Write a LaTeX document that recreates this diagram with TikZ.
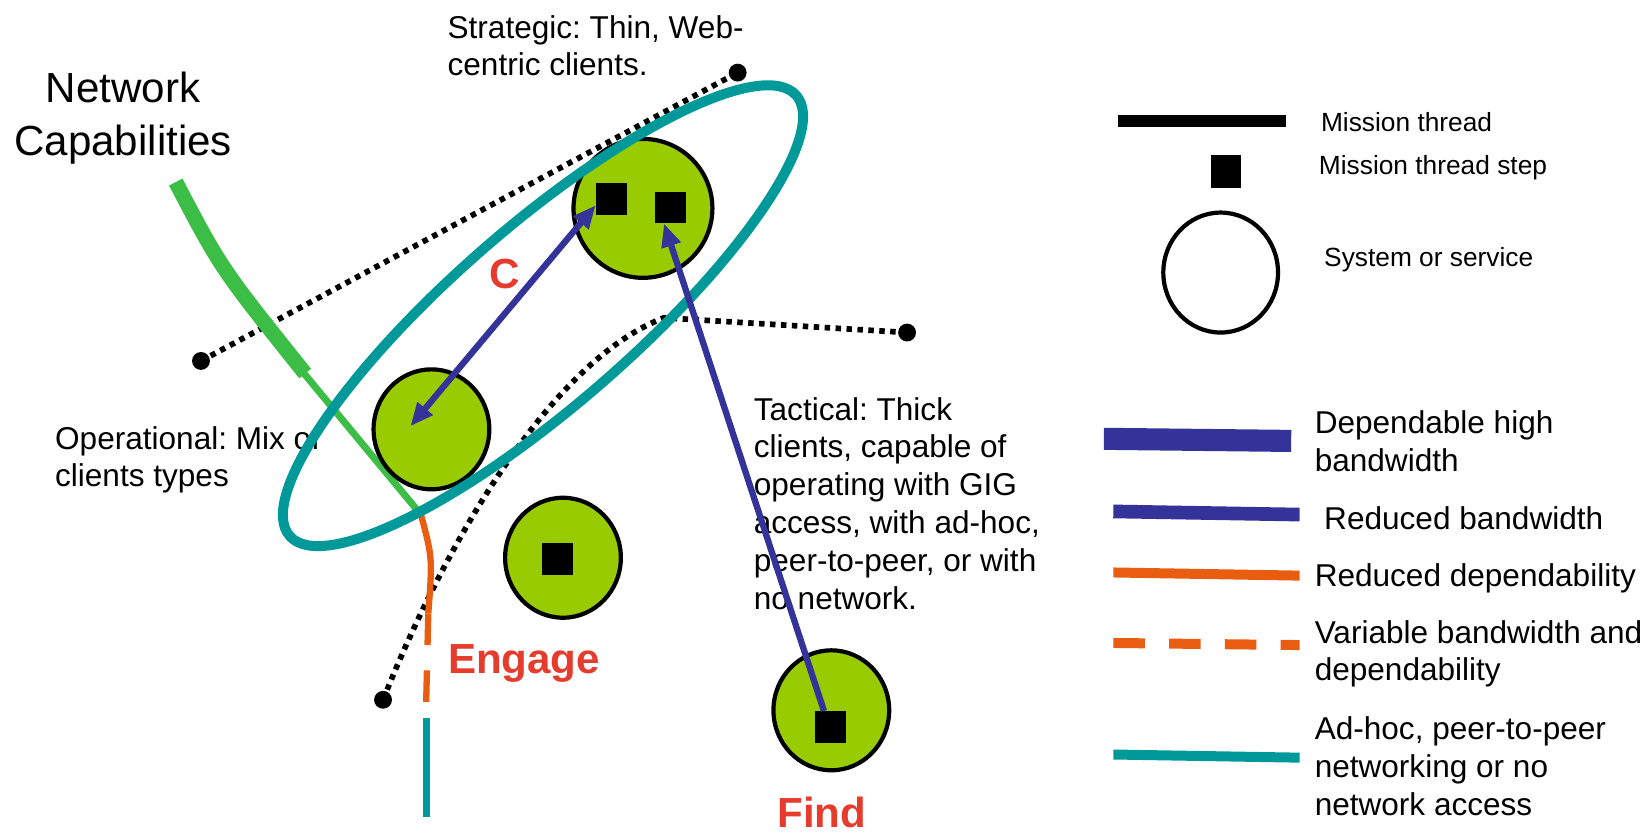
\documentclass[tikz,border=0pt]{standalone}
\usepackage{fontspec}
\setmainfont{Liberation Sans}
\usetikzlibrary{arrows.meta,shapes.geometric}
\definecolor{gfill}{HTML}{99CC00}
\definecolor{dblue}{HTML}{333399}
\definecolor{tealc}{HTML}{009999}
\definecolor{gline}{HTML}{3CBE46}
\definecolor{orng}{HTML}{E85D0F}
\definecolor{redt}{HTML}{E63C2E}
\frenchspacing
\begin{document}
\begin{tikzpicture}[x=0.5pt,y=-0.5pt,
  >={Triangle[length=11pt,width=9pt]},
  sys/.style={ellipse,draw=black,line width=2pt,fill=gfill,inner sep=0pt},
  stp/.style={rectangle,fill=black,minimum width=14.5pt,minimum height=15pt,inner sep=0pt},
  dotline/.style={line width=2.7pt,dash pattern=on 2.6pt off 2.6pt},
  enddot/.style={circle,fill=black,minimum size=8.5pt,inner sep=0pt},
  flow/.style={draw=dblue,line width=3pt},
  redlab/.style={text=redt,font=\fontsize{20}{24}\selectfont\bfseries,inner sep=0pt,anchor=base},
  txt/.style={font=\fontsize{15}{18}\selectfont,align=left,anchor=north west,inner sep=0pt},
  legsmall/.style={font=\fontsize{12.5}{15}\selectfont,anchor=base west,inner sep=0pt},
  legtxt/.style={font=\fontsize{15}{18}\selectfont,align=left,inner sep=0pt},
]
\useasboundingbox (0,0) rectangle (1568,794);

% texts under the lines
\node[txt] (strat) at (425,14) {Strategic: Thin, Web-\\centric clients.};
\node[txt,font=\fontsize{15}{17.5}\selectfont] (oper) at (52,405) {Operational: Mix of\\clients types};
\node[txt] (tact) at (716,377) {Tactical: Thick\\clients, capable of\\operating with GIG\\access, with ad-hoc,\\peer-to-peer, or with\\no network.};
\node[font=\fontsize{20}{25}\selectfont,align=center,anchor=north,inner sep=0pt] (netcap) at (117,68) {Network\\Capabilities};

% dotted mission threads
\node[enddot] (d1a) at (191,343) {};
\node[enddot] (d1b) at (701,69) {};
\draw[dotline] (d1a.center) -- (d1b.center);
\node[enddot] (d2a) at (364,665) {};
\node[enddot] (d2b) at (862,316) {};
\coordinate (d2m) at (631,302);
\draw[dotline] (d2a.center) .. controls (430,500) and (530,340) .. (d2m) -- (d2b.center);

% network capability line
\coordinate (g0) at (167,173);
\coordinate (g1) at (290,355);
\coordinate (g2) at (284,349);
\coordinate (g3) at (400,489);
\coordinate (o1) at (407,583);
\coordinate (o2) at (405,667);
\coordinate (t1) at (405,682);
\coordinate (t2) at (405,776);
\draw[gline,line width=7.2pt] (g0) .. controls (210,255) .. (g1);
\draw[gline,line width=3.3pt] (g2) -- (g3);
\draw[orng,line width=3pt] (g3) .. controls (411,530) .. (o1);
\draw[orng,line width=3pt,dash pattern=on 15pt off 12pt] (o1) -- (o2);
\draw[tealc,line width=3.5pt] (t1) -- (t2);

% systems
\node[sys,minimum width=66pt,minimum height=66pt] (c1) at (611,198) {};
\node[sys,minimum width=55pt,minimum height=57pt] (c2) at (410,408) {};
\node[sys,minimum width=55pt,minimum height=57pt] (c3) at (535,530) {};
\node[sys,minimum width=55pt,minimum height=57pt] (c4) at (790,675) {};
\node[stp] (s1) at (581,189) {};
\node[stp] (s2) at (637,197) {};
\node[stp] (s3) at (530,531) {};
\node[stp] (s4) at (789,691) {};

% ad-hoc ellipse
\draw[tealc,line width=4.75pt,rotate around={41:(516,300)}] (516,300) ellipse [x radius=319, y radius=85];

% flows
\coordinate (c2tip) at (390,405);
\draw[flow,<->] (c2tip) -- ([yshift=-3pt]s1.west);
\draw[flow,->] ([xshift=-3pt]s4.north) -- ([xshift=-3pt]s2.south);

% red labels
\node[redlab] (lc) at (480,274) {C};
\node[redlab] (leng) at (498,640) {Engage};
\node[redlab] (lfind) at (781,786) {Find};

% legend
\coordinate (mt1) at (1062,115);
\coordinate (mt2) at (1222,115);
\draw[line width=5.75pt] (mt1) -- (mt2);
\node[legsmall] (lmt) at (1255,125) {Mission thread};
\node[stp,minimum width=14pt,minimum height=15.5pt] (lstep) at (1165,163) {};
\node[legsmall] (lms) at (1253,166) {Mission thread step};
\node[ellipse,draw=black,line width=2pt,fill=white,minimum width=54.5pt,minimum height=57pt,inner sep=0pt] (lsys) at (1160,259) {};
\node[legsmall] (lss) at (1258,253) {System or service};

\coordinate (lb1) at (1049,417);
\coordinate (lb2) at (1227,419);
\draw[dblue,line width=10.5pt] (lb1) -- (lb2);
\node[legtxt,anchor=north west] (ldh) at (1249,390) {Dependable high\\bandwidth};

\coordinate (lr1) at (1058,486);
\coordinate (lr2) at (1235,489);
\draw[dblue,line width=6.5pt] (lr1) -- (lr2);
\node[legtxt,anchor=base west] (lrb) at (1258,503) {Reduced bandwidth};

\coordinate (lo1) at (1058,544);
\coordinate (lo2) at (1235,547);
\draw[orng,line width=4.75pt] (lo1) -- (lo2);
\node[legtxt,anchor=base west] (lrd) at (1249,557) {Reduced dependability};

\coordinate (lv1) at (1058,611);
\coordinate (lv2) at (1235,613);
\draw[orng,line width=4.75pt,dash pattern=on 15pt off 11.5pt] (lv1) -- (lv2);
\node[legtxt,anchor=north west] (lvb) at (1249,589) {Variable bandwidth and\\dependability};

\coordinate (la1) at (1058,717);
\coordinate (la2) at (1235,720);
\draw[tealc,line width=4.75pt] (la1) -- (la2);
\node[legtxt,anchor=north west] (lad) at (1249,681) {Ad-hoc, peer-to-peer\\networking or no\\network access};
\end{tikzpicture}
\end{document}
